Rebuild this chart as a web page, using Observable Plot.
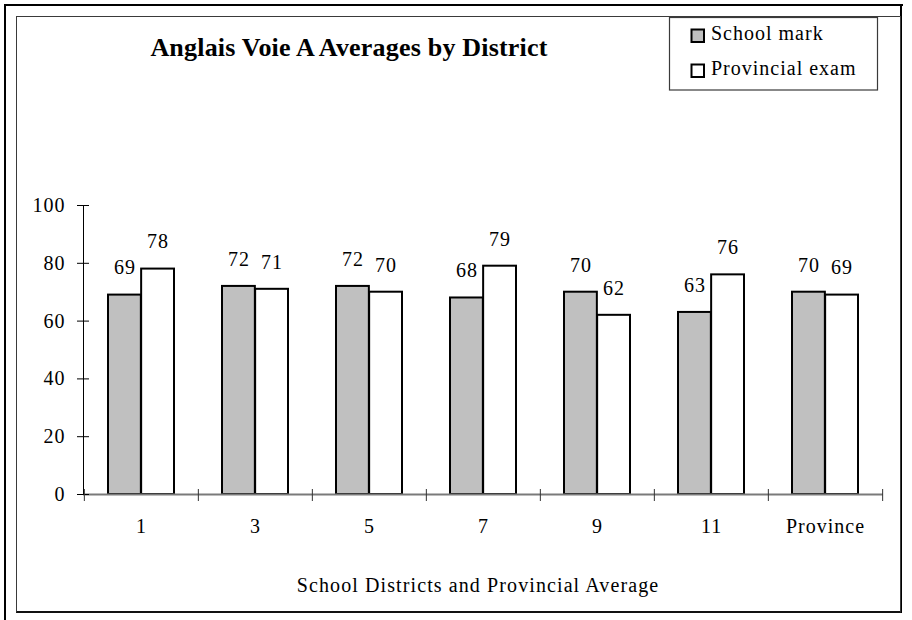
<!DOCTYPE html>
<html>
<head>
<meta charset="utf-8">
<script src="https://cdn.jsdelivr.net/npm/d3@7"></script>
<script src="https://cdn.jsdelivr.net/npm/@observablehq/plot@0.6"></script>
<style>
  html, body { margin: 0; padding: 0; background: #fff; }
  #chart { position: relative; width: 912px; height: 620px; overflow: hidden; font-family: "Liberation Serif", "Times New Roman", serif; }
  #chart > svg { position: absolute; left: 0; top: 0; }
  #chart svg, #chart svg text { font-family: "Liberation Serif", "Times New Roman", serif !important; }
  .line { position: absolute; }
</style>
</head>
<body>
<div id="chart">
  <!-- window-style outer border (top, left, right) -->
  <div class="line" style="left:5px; top:4px; width:898px; height:2px; background:#000"></div>
  <div class="line" style="left:4px; top:4px; width:2px; height:616px; background:#000"></div>
  <div class="line" style="left:900px; top:4px; width:2px; height:609px; background:#000"></div>
  <!-- chart area border -->
  <div class="line" style="left:15.5px; top:15.5px; width:885px; height:597px; border:1.5px solid #3a3a3a; border-bottom:2px solid #111; box-sizing:border-box"></div>
</div>
<script>
// Anglais Voie A averages by school district
const categories = ["1", "3", "5", "7", "9", "11", "Province"];
const schoolMark = [69, 72, 72, 68, 70, 63, 70];
const provincialExam = [78, 71, 70, 79, 62, 76, 69];
const seriesNames = ["School mark", "Provincial exam"];
const seriesFills = ["#c0c0c0", "#ffffff"];
const yTicks = [0, 20, 40, 60, 80, 100];

const title = "Anglais Voie A Averages by District";
const xTitle = "School Districts and Provincial Average";

const schoolRows = categories.map((d, i) => ({district: d, series: seriesNames[0], value: schoolMark[i]}));
const examRows = categories.map((d, i) => ({district: d, series: seriesNames[1], value: provincialExam[i]}));

// plot frame geometry
const W = 912, H = 620;
const mL = 83, mR = 29, mT = 205, mB = 126;
const padIn = 0.42, padOut = padIn / 2;
const step = (W - mL - mR) / (categories.length - padIn + 2 * padOut);
const band = step * (1 - padIn);
const half = band / 2;
const serif = "'Liberation Serif', 'Times New Roman', serif";

const plot = Plot.plot({
  width: W,
  height: H,
  marginLeft: mL,
  marginRight: mR,
  marginTop: mT,
  marginBottom: mB,
  style: {
    fontFamily: serif,
    fontSize: "20px",
    letterSpacing: "1px",
    background: "transparent",
    color: "#000",
    overflow: "visible"
  },
  x: {domain: categories, paddingInner: padIn, paddingOuter: padOut},
  y: {domain: [0, 100]},
  marks: [
    // bars: school mark on the left half of each band, exam on the right half
    Plot.barY(schoolRows, {x: "district", y: "value", fill: seriesFills[0], stroke: "#000", strokeWidth: 2, insetLeft: 0, insetRight: half}),
    Plot.barY(examRows, {x: "district", y: "value", fill: seriesFills[1], stroke: "#000", strokeWidth: 2, insetLeft: half, insetRight: 0}),
    // category axis line
    Plot.ruleY([0], {stroke: "#7a7a7a", strokeWidth: 2}),
    // value axis line
    Plot.frame({anchor: "left", stroke: "#000", strokeWidth: 1}),
    // value axis: crossing ticks and labels
    Plot.axisY({ticks: yTicks, tickSize: 12, dx: 6, fill: "none", label: null, stroke: "#000"}),
    Plot.axisY({ticks: yTicks, tickSize: 0, tickPadding: 18, label: null, fontSize: 20, fontFamily: serif}),
    // category axis: ticks between the groups, and labels under each group
    Plot.axisX({tickSize: 12, dy: -5, dx: -step / 2, fill: "none", label: null, stroke: "#333"}),
    Plot.axisX({ticks: [categories[categories.length - 1]], tickSize: 12, dy: -5, dx: step / 2, fill: "none", label: null, stroke: "#333"}),
    Plot.axisX({tickSize: 0, tickPadding: 24, label: null, fontSize: 20, fontFamily: serif}),
    // value labels above the bars
    Plot.text(schoolRows, {x: "district", y: "value", text: d => String(d.value), dx: -half / 2, dy: -27, lineAnchor: "middle", fontSize: 20, fontFamily: serif}),
    Plot.text(examRows, {x: "district", y: "value", text: d => String(d.value), dx: half / 2, dy: -27, lineAnchor: "middle", fontSize: 20, fontFamily: serif})
  ]
});

const chart = document.getElementById("chart");
chart.insertBefore(plot, chart.firstChild);

// title, legend and axis title
const overlay = d3.select(chart).append("svg")
  .attr("width", W).attr("height", H)
  .style("pointer-events", "none")
  .style("font-family", serif);

overlay.append("text")
  .attr("x", 349).attr("y", 56)
  .attr("text-anchor", "middle")
  .style("font-size", "26px").style("font-weight", "bold").style("letter-spacing", "0.2px")
  .text(title);

overlay.append("text")
  .attr("x", 478).attr("y", 592)
  .attr("text-anchor", "middle")
  .style("font-size", "20px").style("letter-spacing", "1.1px")
  .text(xTitle);

const legend = overlay.append("g");
legend.append("rect")
  .attr("x", 669.5).attr("y", 17.5).attr("width", 208).attr("height", 72.5)
  .attr("fill", "#fff").attr("stroke", "#3a3a3a").attr("stroke-width", 1.2);
const items = legend.selectAll("g.item").data(seriesNames).join("g")
  .attr("transform", (d, i) => `translate(0, ${i * 35})`);
items.append("rect")
  .attr("x", 691.5).attr("y", 29.5).attr("width", 12.5).attr("height", 12.5)
  .attr("fill", (d, i) => seriesFills[i]).attr("stroke", "#000").attr("stroke-width", 2);
items.append("text")
  .attr("x", 711).attr("y", 39.5)
  .style("font-size", "20px").style("letter-spacing", "1px")
  .text(d => d);
</script>
</body>
</html>
